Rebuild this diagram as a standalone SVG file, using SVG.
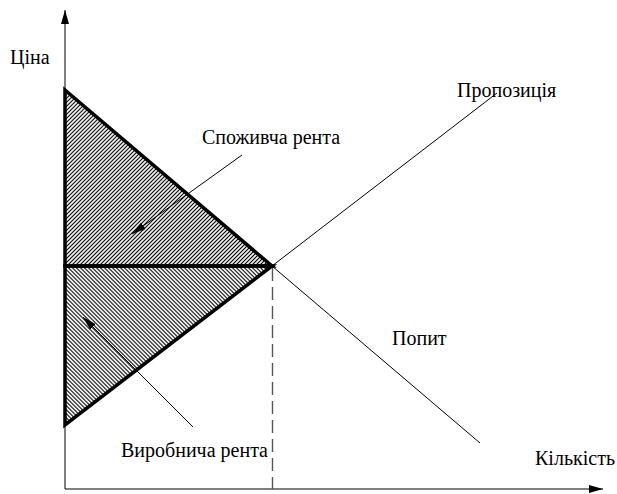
<svg xmlns="http://www.w3.org/2000/svg" width="617" height="494" viewBox="0 0 617 494">
<defs>
<style>
.t{font-family:"Liberation Serif","Times New Roman",serif;font-size:20px;fill:#000}
.thin{stroke:#000;stroke-width:1;fill:none}
.thick{stroke:#000;stroke-width:3.5;stroke-linejoin:miter;stroke-linecap:square}
.dash{stroke:#555;stroke-width:1.4;stroke-dasharray:13 6;fill:none}
</style>
<pattern id="hatchUp" patternUnits="userSpaceOnUse" width="2.83" height="10" patternTransform="rotate(45)">
<rect x="0" y="0" width="1.1" height="10" fill="#000"/>
</pattern>
<pattern id="hatchDown" patternUnits="userSpaceOnUse" width="2.83" height="10" patternTransform="rotate(-45)">
<rect x="0" y="0" width="1.1" height="10" fill="#000"/>
</pattern>
<marker id="axisArrow" markerWidth="14" markerHeight="8" refX="14" refY="4" orient="auto" markerUnits="userSpaceOnUse">
<path d="M0,0 L14,4 L0,8 Z" fill="#000"/>
</marker>
<marker id="ptr" markerWidth="14" markerHeight="8" refX="14" refY="4" orient="auto" markerUnits="userSpaceOnUse">
<path d="M0,0 L14,4 L0,8 Z" fill="#000"/>
</marker>
</defs>
<rect width="617" height="494" fill="#fff"/>
<g id="axes">
<line class="thin" x1="65" y1="489" x2="65" y2="10" marker-end="url(#axisArrow)"/>
<line class="thin" x1="65" y1="489" x2="603" y2="489" marker-end="url(#axisArrow)"/>
</g>
<g id="consumer-surplus">
<polygon points="65,90 272,266 65,266" fill="url(#hatchUp)" class="thick"/>
</g>
<g id="producer-surplus">
<polygon points="65,266 272,266 65,425" fill="url(#hatchDown)" class="thick"/>
</g>
<g id="connectors">
<line class="thin" x1="272" y1="266" x2="497" y2="93"/>
<line class="thin" x1="272" y1="266" x2="480" y2="443"/>
<line class="dash" x1="272.5" y1="268" x2="272.5" y2="489"/>
<line class="thin" x1="242" y1="155" x2="132" y2="234" marker-end="url(#ptr)"/>
<line class="thin" x1="193" y1="427" x2="83" y2="317" marker-end="url(#ptr)"/>
</g>
<g id="labels">
<text class="t" x="10" y="64">Ціна</text>
<text class="t" x="202" y="144">Споживча рента</text>
<text class="t" x="457" y="97">Пропозиція</text>
<text class="t" x="392" y="345">Попит</text>
<text class="t" x="268" y="457" text-anchor="end">Виробнича рента</text>
<text class="t" x="535" y="465">Кількість</text>
</g>
</svg>
